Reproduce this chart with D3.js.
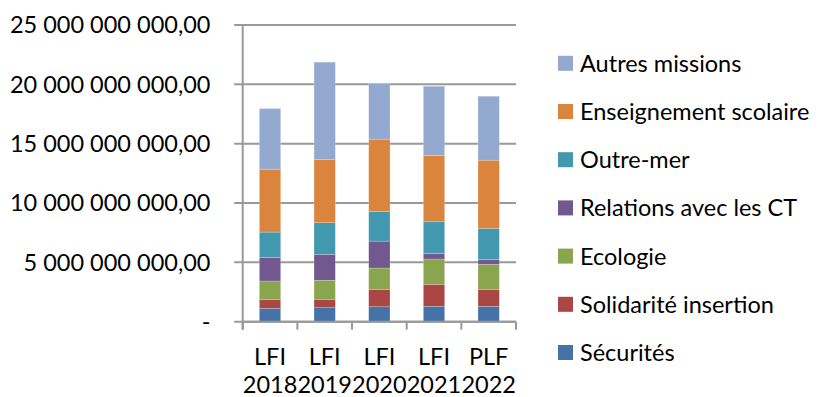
<!DOCTYPE html>
<html>
<head>
<meta charset="utf-8">
<script src="https://cdn.jsdelivr.net/npm/d3@7"></script>
<style>
  html, body { margin: 0; padding: 0; background: #fff; }
  svg { display: block; }
  text { font-family: Lato, "Open Sans", sans-serif; fill: #000; }
</style>
</head>
<body>
<svg id="chart" width="823" height="397"></svg>
<script>
// Budget by mission, stacked per finance law (euros)
const categories = ["LFI 2018", "LFI 2019", "LFI 2020", "LFI 2021", "PLF 2022"];
const seriesNames = ["Sécurités", "Solidarité insertion", "Ecologie", "Relations avec les CT",
                     "Outre-mer", "Enseignement scolaire", "Autres missions"];
const securites     = [1.13e9, 1.18e9, 1.26e9, 1.30e9, 1.30e9];
const solidarite    = [0.72e9, 0.71e9, 1.47e9, 1.85e9, 1.43e9];
const ecologie      = [1.58e9, 1.60e9, 1.79e9, 2.13e9, 2.10e9];
const relationsCT   = [1.99e9, 2.19e9, 2.27e9, 0.48e9, 0.42e9];
const outreMer      = [2.13e9, 2.66e9, 2.50e9, 2.66e9, 2.61e9];
const enseignement  = [5.30e9, 5.34e9, 6.09e9, 5.58e9, 5.75e9];
const autres        = [5.11e9, 8.19e9, 4.69e9, 5.84e9, 5.39e9];
const yTicks = [0, 5e9, 10e9, 15e9, 20e9, 25e9];
const colors = ["#4573A7", "#AA4644", "#89A54E", "#71588F", "#4298AF", "#DB843D", "#93A9CF"];

const seriesValues = [securites, solidarite, ecologie, relationsCT, outreMer, enseignement, autres];
const rows = categories.map((c, i) => {
  const r = { cat: c };
  seriesNames.forEach((s, j) => r[s] = seriesValues[j][i]);
  return r;
});
const stacked = d3.stack().keys(seriesNames)(rows);

const svg = d3.select("#chart");
const plot = { left: 242.7, right: 516, top: 25, bottom: 321.7 };
const fontSize = 23.5;

const x = d3.scaleBand().domain(categories).range([plot.left, plot.right]).padding(0);
const y = d3.scaleLinear().domain([0, 25e9]).range([plot.bottom, plot.top]);
const color = d3.scaleOrdinal().domain(seriesNames).range(colors);

// number format: "25 000 000 000,00", zero shown as "-"
const fmt = v => {
  if (v === 0) return "-";
  const s = d3.format(",.2f")(v);
  return s.replace(/,/g, " ").replace(".", ",");
};

// horizontal gridlines (extend left as tick marks)
svg.append("g")
  .selectAll("line")
  .data(yTicks)
  .join("line")
  .attr("x1", plot.left - 8.5)
  .attr("x2", plot.right)
  .attr("y1", d => y(d))
  .attr("y2", d => y(d))
  .attr("stroke", "#999")
  .attr("stroke-width", 2);

// y tick labels
svg.append("g")
  .selectAll("text")
  .data(yTicks)
  .join("text")
  .attr("x", 210.5)
  .attr("y", d => y(d))
  .attr("dy", "0.36em")
  .attr("text-anchor", "end")
  .attr("font-size", fontSize)
  .text(fmt);

// stacked bars
const barW = x.bandwidth() * 0.39;
svg.append("g")
  .selectAll("g")
  .data(stacked)
  .join("g")
  .attr("fill", d => color(d.key))
  .selectAll("rect")
  .data(d => d)
  .join("rect")
  .attr("x", d => x(d.data.cat) + (x.bandwidth() - barW) / 2)
  .attr("width", barW)
  .attr("y", d => y(d[1]))
  .attr("height", d => y(d[0]) - y(d[1]))
  .attr("stroke", "rgba(255,255,255,0.35)")
  .attr("stroke-width", 0.6);

// y axis line
svg.append("line")
  .attr("x1", plot.left).attr("x2", plot.left)
  .attr("y1", plot.top).attr("y2", plot.bottom + 8)
  .attr("stroke", "#999").attr("stroke-width", 2);

// x axis baseline + ticks at band boundaries
svg.append("line")
  .attr("x1", plot.left).attr("x2", plot.right)
  .attr("y1", plot.bottom).attr("y2", plot.bottom)
  .attr("stroke", "#999").attr("stroke-width", 2);
const bounds = categories.map(c => x(c)).concat([x(categories[categories.length - 1]) + x.bandwidth()]);
svg.append("g")
  .selectAll("line")
  .data(bounds)
  .join("line")
  .attr("x1", d => d).attr("x2", d => d)
  .attr("y1", plot.bottom).attr("y2", plot.bottom + 8)
  .attr("stroke", "#999").attr("stroke-width", 2);

// x labels on two lines
const xl = svg.append("g")
  .selectAll("text")
  .data(categories)
  .join("text")
  .attr("text-anchor", "middle")
  .attr("font-size", fontSize);
xl.append("tspan")
  .attr("x", d => x(d) + x.bandwidth() / 2)
  .attr("y", 364.5)
  .text(d => d.split(" ")[0]);
xl.append("tspan")
  .attr("x", d => x(d) + x.bandwidth() / 2)
  .attr("y", 392.5)
  .text(d => d.split(" ")[1]);

// legend, top-down in reverse stacking order
const legendItems = seriesNames.slice().reverse();
const lg = svg.append("g")
  .selectAll("g")
  .data(legendItems)
  .join("g")
  .attr("transform", (d, i) => `translate(558, ${63.3 + i * 48.2})`);
lg.append("rect")
  .attr("x", 0).attr("y", -7.5)
  .attr("width", 15).attr("height", 15)
  .attr("fill", d => color(d));
lg.append("text")
  .attr("x", 22)
  .attr("dy", "0.36em")
  .attr("font-size", fontSize)
  .text(d => d);
</script>
</body>
</html>
